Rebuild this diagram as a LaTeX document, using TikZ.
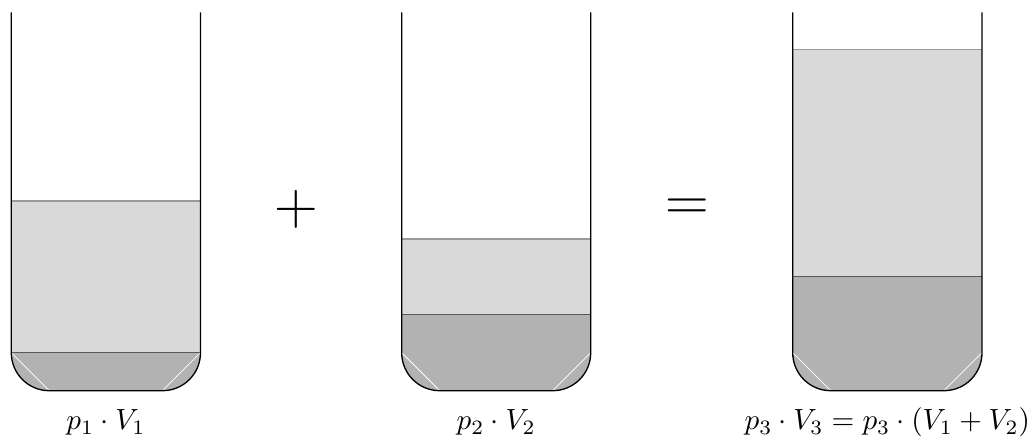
\documentclass[tikz,border=0pt]{standalone}
\begin{document}
\begin{tikzpicture}[x=0.3425pt,y=-0.3425pt,
  wall/.style={black,line width=0.45pt},
  lightliq/.style={fill=gray!30},
  darkliq/.style={fill=gray!60},
  lightlevel/.style={draw=black!40,line width=0.4pt},
  darklevel/.style={draw=black!65,line width=0.4pt},
  seam/.style={draw=white,line width=0.25pt},
  lbl/.style={anchor=base,inner sep=0pt},
  op/.style={inner sep=0pt,font=\huge}]
\useasboundingbox (0,0) rectangle (1035,437);
\foreach \L/\R/\lt/\dk in {11.3/200.5/201/352.7, 401.7/590.7/239/314.7, 792.7/982/49.5/276.7}{
  \begin{scope}
    \clip (\L,12.5) -- (\L,352.7) arc[start angle=180,end angle=270,radius=13.015pt]
      -- (\R-38,390.7) arc[start angle=270,end angle=360,radius=13.015pt] -- (\R,12.5) -- cycle;
    \fill[lightliq] (\L,\lt) rectangle (\R,\dk);
    \fill[darkliq] (\L,\dk) rectangle (\R,392);
    \draw[lightlevel] (\L,\lt) -- (\R,\lt);
    \draw[darklevel] (\L,\dk) -- (\R,\dk);
    \draw[seam] (\L,352.7) -- (\L+38,390.7);
    \draw[seam] (\R-38,390.7) -- (\R,352.7);
  \end{scope}
  \draw[wall] (\L,12.5) -- (\L,352.7) arc[start angle=180,end angle=270,radius=13.015pt]
      -- (\R-38,390.7) arc[start angle=270,end angle=360,radius=13.015pt] -- (\R,12.5);
}
\node[op] (plus) at (296.5,209.5) {$+$};
\node[op] (equals) at (687.5,209.5) {$=$};
\node[lbl] (l1) at (105.9,430) {$p_1\cdot V_1$};
\node[lbl] (l2) at (496.2,430) {$p_2\cdot V_2$};
\node[lbl] (l3) at (887.3,430) {$p_3\cdot V_3=p_3\cdot(V_1+V_2)$};
\end{tikzpicture}
\end{document}
